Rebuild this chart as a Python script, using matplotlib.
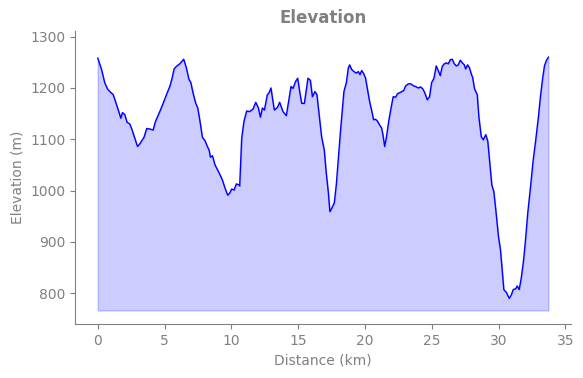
import numpy as np
import matplotlib
matplotlib.use('Agg')
import matplotlib.pyplot as plt

# distance (km) and elevation (m)
distance = [0.00, 0.28, 0.52, 0.73, 0.90, 1.15, 1.32, 1.57, 1.72, 1.85, 2.02, 2.19, 2.39,
            2.57, 2.77, 2.97, 3.14, 3.46, 3.66, 3.89, 4.14, 4.32, 4.64, 4.89, 5.14, 5.39,
            5.56, 5.71, 5.88, 6.13, 6.43, 6.63, 6.83, 6.96, 7.13, 7.33, 7.48, 7.63, 7.83,
            8.03, 8.20, 8.33, 8.43, 8.58, 8.77, 9.07, 9.32, 9.52, 9.72, 9.87, 10.02, 10.20,
            10.37, 10.57, 10.62, 10.77, 10.94, 11.14, 11.37, 11.62, 11.82, 12.02, 12.17,
            12.32, 12.47, 12.69, 12.81, 12.96, 13.21, 13.44, 13.61, 13.86, 14.11, 14.31,
            14.46, 14.61, 14.81, 14.96, 15.11, 15.26, 15.46, 15.61, 15.73, 15.91, 16.06,
            16.25, 16.40, 16.55, 16.75, 16.95, 17.10, 17.26, 17.37, 17.50, 17.70, 17.85,
            18.00, 18.17, 18.42, 18.60, 18.75, 18.85, 19.00, 19.17, 19.35, 19.50, 19.62,
            19.75, 19.90, 20.04, 20.19, 20.34, 20.49, 20.64, 20.79, 20.94, 21.09, 21.24,
            21.34, 21.47, 21.59, 21.79, 21.99, 22.11, 22.29, 22.44, 22.69, 22.89, 23.04,
            23.24, 23.43, 23.63, 23.78, 23.98, 24.16, 24.33, 24.48, 24.66, 24.83, 24.98,
            25.16, 25.33, 25.48, 25.63, 25.78, 25.93, 26.08, 26.23, 26.38, 26.53, 26.68,
            26.83, 26.98, 27.13, 27.28, 27.43, 27.53, 27.68, 27.82, 27.97, 28.05, 28.20,
            28.40, 28.52, 28.70, 28.85, 29.04, 29.19, 29.34, 29.49, 29.64, 29.79, 29.99,
            30.14, 30.27, 30.39, 30.59, 30.79, 30.94, 31.09, 31.29, 31.39, 31.54, 31.69,
            31.84, 31.99, 32.18, 32.39, 32.59, 32.78, 32.98, 33.13, 33.28, 33.43, 33.58,
            33.73]
elevation = [1258, 1236, 1210, 1198, 1193, 1187, 1174, 1154, 1141, 1152, 1148, 1133, 1130,
             1118, 1102, 1086, 1091, 1104, 1121, 1120, 1118, 1135, 1154, 1170, 1187, 1203,
             1219, 1237, 1242, 1247, 1256, 1239, 1216, 1211, 1190, 1170, 1161, 1138, 1104,
             1097, 1086, 1079, 1065, 1068, 1050, 1035, 1021, 1005, 991, 995, 1003, 1001,
             1013, 1011, 1009, 1102, 1135, 1155, 1154, 1159, 1172, 1161, 1143,
             1161, 1157, 1187, 1190, 1200, 1157, 1162, 1172, 1154, 1146, 1178,
             1203, 1199, 1213, 1219, 1193, 1170, 1170, 1197, 1219, 1215, 1183,
             1193, 1187, 1151, 1105, 1079, 1034, 995, 959, 965, 976, 1011,
             1060, 1118, 1193, 1210, 1239, 1245, 1236, 1232, 1229, 1232, 1226,
             1234, 1228, 1219, 1197, 1174, 1157, 1138, 1139, 1135, 1128, 1122,
             1109, 1086, 1102, 1138, 1167, 1183, 1182, 1189, 1192, 1195, 1204,
             1208, 1208, 1204, 1203, 1200, 1202, 1198, 1190, 1177, 1183, 1210,
             1219, 1243, 1234, 1224, 1242, 1247, 1249, 1247, 1255, 1256, 1247,
             1243, 1245, 1254, 1249, 1245, 1237, 1245, 1239, 1226, 1221, 1198,
             1187, 1144, 1105, 1099, 1109, 1096, 1053, 1011, 998, 962, 910,
             884, 845, 807, 801, 790, 796, 807, 809, 814, 807, 829,
             858, 897, 956, 1008, 1060, 1099, 1144, 1183, 1216, 1243, 1254,
             1260]

distance = np.array(distance)
elevation = np.array(elevation)
base = elevation.min() * 0.97

grey = '#808080'
plt.rcParams['font.family'] = 'DejaVu Sans'

fig = plt.figure(figsize=(5.83, 3.78), dpi=100)
ax = fig.add_axes([0.129, 0.143, 0.850, 0.775])

ax.fill_between(distance, base, elevation, color='blue', alpha=0.2)
ax.plot(distance, elevation, color='blue', lw=1)

ax.set_ylim(740, 1311)
ax.set_xlim(-1.69, 35.4)
ax.set_xticks([0, 5, 10, 15, 20, 25, 30, 35])
ax.set_yticks([800, 900, 1000, 1100, 1200, 1300])

ax.set_title('Elevation', color=grey, fontweight='bold', fontsize=12)
ax.set_xlabel('Distance (km)', color=grey, fontsize=10)
ax.set_ylabel('Elevation (m)', color=grey, fontsize=10)

for side in ['top', 'right']:
    ax.spines[side].set_visible(False)
for side in ['left', 'bottom']:
    ax.spines[side].set_color(grey)
ax.tick_params(colors=grey, labelsize=10)

fig.savefig('out.png', dpi=100)
